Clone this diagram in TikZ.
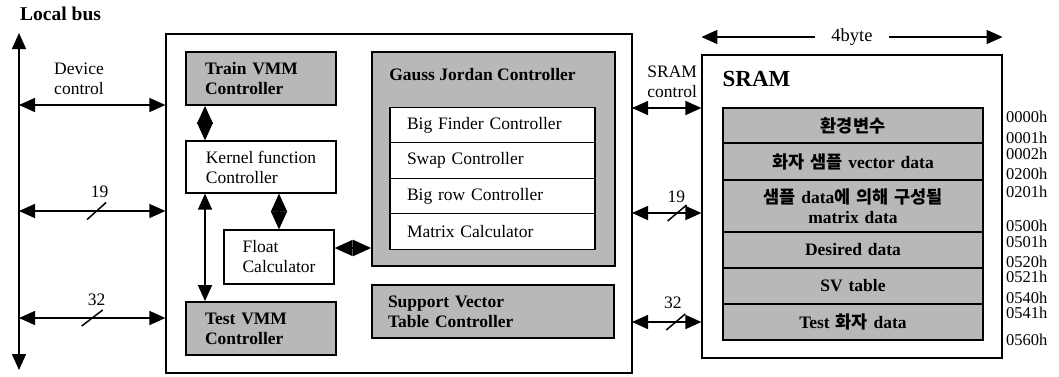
\documentclass[tikz,border=0pt]{standalone}
\usepackage{fontspec}
\setmainfont{Liberation Serif}
\newfontfamily\kr{Noto Sans CJK KR}
\usetikzlibrary{arrows.meta, positioning}

\tikzstyle{box} = [rectangle, draw=black, line width=1.2pt, fill=white, align=left]
\tikzstyle{ctrl} = [rectangle, draw=black, line width=1.8pt, fill=black!28, font=\bfseries, align=left, inner xsep=19pt]
\tikzstyle{row} = [rectangle, draw=black, line width=1.2pt, fill=white, minimum width=205pt, minimum height=35.5pt, text width=171pt, inner xsep=17pt, align=left, outer sep=0pt]
\tikzstyle{mem} = [rectangle, draw=black, line width=1.2pt, fill=black!28, minimum width=260pt, text width=240pt, inner xsep=10pt, align=center, font=\bfseries, outer sep=0pt]
\tikzstyle{link} = [line width=1.5pt, >={Triangle[length=16pt,width=14pt]}]
\tikzstyle{diam} = [line width=1.5pt, <->, >={Triangle[length=18pt,width=16pt]}]
\tikzstyle{addr} = [anchor=west, inner sep=0pt, font=\fontsize{16.5}{18}\selectfont]
\tikzstyle{slash} = [line width=1.5pt]

\begin{document}
\begin{tikzpicture}[x=1pt, y=-1pt]
\fontsize{17.5}{20}\selectfont
\useasboundingbox (0,0) rectangle (1059,376);

% local bus
\node[anchor=west, inner sep=0pt, font=\fontsize{19.5}{22}\selectfont\bfseries] (lbus) at (20,14) {Local bus};
\coordinate (bustop) at (19,33);
\coordinate (busbot) at (19,370);
\draw[link, <->] (bustop) -- (busbot);

% device side
\node[box, minimum width=466pt, minimum height=339pt] (fpga) at (399,203.5) {};
\node[ctrl, minimum width=150pt, minimum height=53pt, text width=112pt] (train) at (261,78.5) {Train VMM\\Controller};
\node[box, minimum width=150pt, minimum height=52pt] (kernel) at (261,167) {Kernel function\\Controller};
\node[box, minimum width=110pt, minimum height=54pt] (float) at (279,257) {Float\\Calculator};
\node[ctrl, minimum width=150pt, minimum height=53pt, text width=112pt] (test) at (261,328.5) {Test VMM\\Controller};
\node[ctrl, minimum width=243pt, minimum height=214pt, label={[anchor=north west, inner sep=0pt, xshift=18pt, yshift=-17pt, font=\bfseries]north west:Gauss Jordan Controller}] (gj) at (493.5,159) {};
\node[row] (big) at (492.5,125) {Big Finder Controller};
\node[row, below=0pt of big] (swap) {Swap Controller};
\node[row, below=0pt of swap] (bigrow) {Big row Controller};
\node[row, below=0pt of bigrow] (matrix) {Matrix Calculator};
\node[ctrl, minimum width=242pt, minimum height=53pt, text width=210pt, inner xsep=16pt] (svt) at (493,311.5) {Support Vector\\Table Controller};

\draw[diam] ([xshift=-56pt]train.south) -- ([xshift=-56pt]kernel.north);
\draw[diam] (float.north |- kernel.south) -- (float.north);
\draw[link, <->] ([xshift=-56pt]kernel.south) -- ([xshift=-56pt]test.north);
\coordinate (fl) at ([yshift=9pt]float.east);
\draw[diam] (fl) -- (fl -| gj.west);

% bus to device
\coordinate (ldev) at (19,105);
\coordinate (l19) at (19,211);
\coordinate (l32) at (19,318);
\draw[link, <->] (ldev) -- node[pos=0.41, above=4pt, align=left] (devlbl) {Device\\control} (ldev -| fpga.west);
\draw[link, <->] (l19) -- node[pos=0.55, above=7pt] (w19l) {19} coordinate[pos=0.53] (s19l) (l19 -| fpga.west);
\draw[slash] (s19l) ++(-9.5,8.5) -- ++(19,-17);
\draw[link, <->] (l32) -- node[pos=0.53, above=6pt] (w32l) {32} coordinate[pos=0.5] (s32l) (l32 -| fpga.west);
\draw[slash] (s32l) ++(-10.5,8) -- ++(21,-16);

% sram
\node[box, minimum width=300pt, minimum height=303pt, label={[anchor=north west, inner sep=0pt, xshift=21pt, yshift=-17pt, font=\fontsize{23}{26}\selectfont\bfseries]north west:SRAM}] (sram) at (852,206.5) {};
\node[inner xsep=16pt, font=\fontsize{18.5}{20}\selectfont] (width) at (852,37) {4byte};
\draw[link, ->] (width.west) -- (width.west -| sram.west);
\draw[link, ->] (width.east) -- (width.east -| sram.east);

\node[mem, minimum height=35pt] (env) at (853,125.5) {{\kr 환경변수}};
\node[mem, minimum height=37pt, below=0pt of env] (vec) {{\kr 화자 샘플} vector data};
\node[mem, minimum height=52pt, below=0pt of vec] (mat) {{\kr 샘플} data{\kr 에 의해 구성될}\\matrix data};
\node[mem, minimum height=36pt, below=0pt of mat] (des) {Desired data};
\node[mem, minimum height=36pt, below=0pt of des] (sv) {SV table};
\node[mem, minimum height=36pt, below=0pt of sv] (tst) {Test {\kr 화자} data};

% device to sram
\coordinate (rctl) at (632,108);
\coordinate (r19) at (632,213);
\coordinate (r32) at (632,322);
\draw[link, <->] (rctl) -- node[pos=0.58, above=4pt, align=center, inner xsep=0pt] (ctllbl) {SRAM\\control} (rctl -| sram.west);
\draw[link, <->] (r19) -- node[pos=0.64, above=4pt] (w19r) {19} coordinate[pos=0.65] (s19r) (r19 -| sram.west);
\draw[slash] (s19r) ++(-9.5,8) -- ++(19,-16);
\draw[link, <->] (r32) -- node[pos=0.59, above=7pt] (w32r) {32} coordinate[pos=0.63] (s32r) (r32 -| sram.west);
\draw[slash] (s32r) ++(-9.5,8) -- ++(19,-16);

% addresses
\node[addr] (a0000) at (1006,117) {0000h};
\node[addr] (a0001) at (1006,138) {0001h};
\node[addr] (a0002) at (1006,154) {0002h};
\node[addr] (a0200) at (1006,174) {0200h};
\node[addr] (a0201) at (1006,192) {0201h};
\node[addr] (a0500) at (1006,226) {0500h};
\node[addr] (a0501) at (1006,242) {0501h};
\node[addr] (a0520) at (1006,262) {0520h};
\node[addr] (a0521) at (1006,277) {0521h};
\node[addr] (a0540) at (1006,298) {0540h};
\node[addr] (a0541) at (1006,313) {0541h};
\node[addr] (a0560) at (1006,340) {0560h};

\end{tikzpicture}
\end{document}
